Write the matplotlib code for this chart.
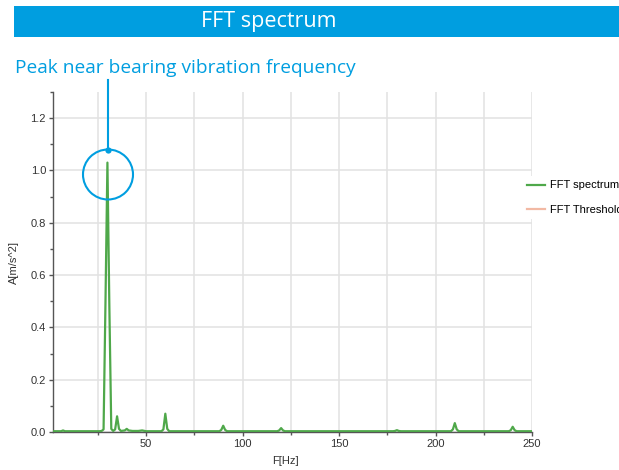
import matplotlib
matplotlib.use("Agg")
import matplotlib.pyplot as plt
from matplotlib.patches import Rectangle, Ellipse
from matplotlib.lines import Line2D
from matplotlib.ticker import MultipleLocator

# ---- data ----
freq = [2, 6, 7, 8, 15, 20, 26, 27, 28, 29, 30, 31, 32, 33, 34, 35, 36, 37, 39, 40, 41, 43,
        46, 48, 50, 58, 59, 60, 61, 62, 70, 80, 88, 89, 90, 91, 92, 118, 119, 120, 121, 122,
        150, 178, 179, 180, 181, 182, 208, 209, 210, 211, 212, 238, 239, 240, 241, 242, 250]
amp = [0.003, 0.003, 0.006, 0.003, 0.003, 0.003, 0.003, 0.004, 0.01, 0.5, 1.03, 0.48, 0.012, 0.004, 0.01, 0.06, 0.012,
       0.004, 0.006, 0.012, 0.006, 0.004, 0.004, 0.006, 0.003, 0.003, 0.01, 0.07, 0.012, 0.003, 0.003, 0.003,
       0.003, 0.008, 0.024, 0.008, 0.003, 0.003, 0.006, 0.015, 0.006, 0.003,
       0.003, 0.003, 0.004, 0.007, 0.004, 0.003, 0.003, 0.01, 0.034, 0.01, 0.003, 0.003, 0.007, 0.02, 0.007, 0.003, 0.003]
x_ticks = [50, 100, 150, 200, 250]
y_ticks = [0.0, 0.2, 0.4, 0.6, 0.8, 1.0, 1.2]
series_labels = ["FFT spectrum", "FFT Threshold"]

title_text = "FFT spectrum"
note_text = "Peak near bearing vibration frequency"

W, H = 619, 470
fig = plt.figure(figsize=(W / 100, H / 100), dpi=100)
plt.rcParams['font.family'] = ['Liberation Sans', 'DejaVu Sans']

blue = '#009ee0'
green = '#4fa84a'

# title band
fig.add_artist(Rectangle((14 / W, 1 - 37 / H), 1 - 14 / W, 31 / H, transform=fig.transFigure,
                         facecolor=blue, edgecolor='none'))
fig.text(269 / W, 1 - 21.5 / H, title_text, color='white', fontsize=15.5, family=['Open Sans', 'DejaVu Sans'],
         ha='center', va='center')
fig.text(15 / W, 1 - 68 / H, note_text, color=blue, fontsize=13.8, family=['Open Sans', 'DejaVu Sans'],
         ha='left', va='center')

ax = fig.add_axes([53 / W, 1 - 432 / H, (532 - 53) / W, (432 - 92) / H])
ax.plot(freq, amp, color=green, lw=1.6, label=series_labels[0], zorder=3)
ax.plot([], [], color='#f2b9a4', lw=1.6, label=series_labels[1])

ax.set_xlim(1.8, 250)
ax.set_ylim(0, 1.3)
ax.set_xticks(x_ticks)
ax.set_yticks(y_ticks)
ax.set_yticklabels([f"{v:.1f}" for v in y_ticks])
ax.xaxis.set_minor_locator(MultipleLocator(25))
ax.yaxis.set_minor_locator(MultipleLocator(0.1))
ax.grid(True, which='major', axis='y', color='#e2e2e2', lw=1.1)
ax.grid(True, which='both', axis='x', color='#e2e2e2', lw=1.1)
ax.set_axisbelow(True)
for s in ['top', 'right']:
    ax.spines[s].set_visible(False)
for s in ['left', 'bottom']:
    ax.spines[s].set_color('#555555')
    ax.spines[s].set_linewidth(1)
ax.tick_params(which='major', length=3, width=1, color='#555555', labelsize=8, labelcolor='#333333', pad=2)
ax.tick_params(which='minor', length=2, width=1, color='#555555')
ax.set_ylabel("A[m/s^2]", fontsize=8, color='#333333', labelpad=8)
ax.set_xlabel("F[Hz]", fontsize=8, color='#333333', labelpad=3)
ax.xaxis.set_label_coords((285 - 53) / (532 - 53), -0.07)

leg = ax.legend(loc='upper left', bbox_to_anchor=(523 / W, 1 - 176 / H), bbox_transform=fig.transFigure,
                frameon=True, fontsize=8, handlelength=1.6, handletextpad=0.45, labelspacing=1.3, borderaxespad=0)
leg.get_frame().set_edgecolor('none')
leg.get_frame().set_facecolor('white')
leg.get_frame().set_alpha(1)

# annotation marker
fig.add_artist(Line2D([108 / W, 108 / W], [1 - 80 / H, 1 - 150 / H], transform=fig.transFigure,
                      color=blue, lw=1.5))
fig.add_artist(Line2D([108 / W], [1 - 150 / H], transform=fig.transFigure, marker='o', ms=4.5,
                      color=blue, mec='none'))
fig.add_artist(Ellipse((108 / W, 1 - 174.5 / H), 50 / W, 50 / H, transform=fig.transFigure,
                       facecolor='none', edgecolor=blue, lw=1.5, zorder=5))

fig.savefig("out.png", dpi=100)
